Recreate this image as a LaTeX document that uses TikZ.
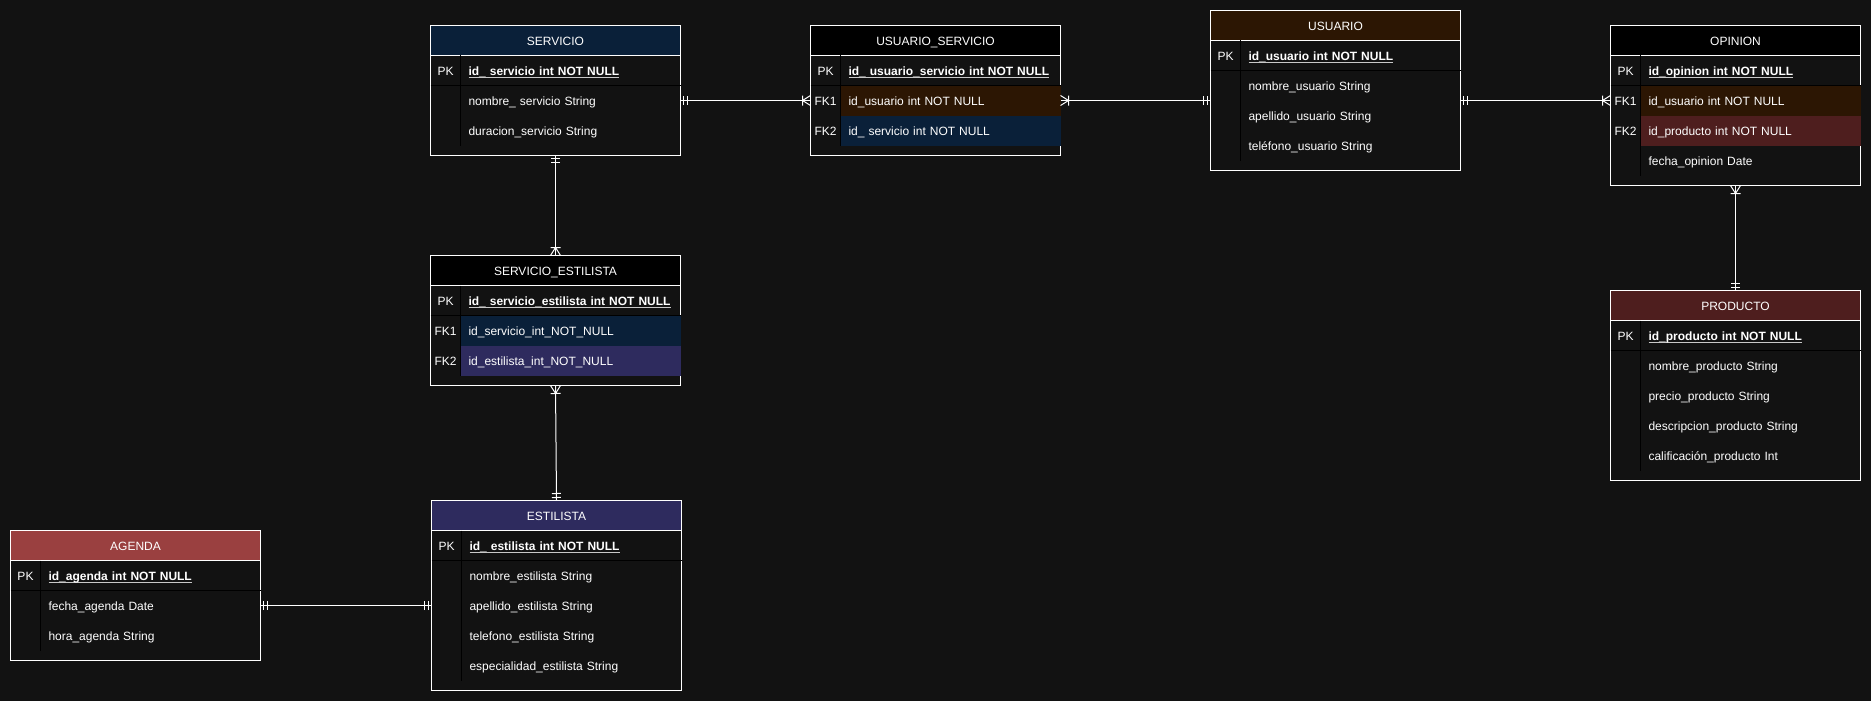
\documentclass[tikz,border=0pt]{standalone}
\usepackage{fontspec}
\setmainfont{Liberation Sans}

\definecolor{canvas}{RGB}{18,18,18}
\definecolor{navy}{RGB}{10,32,57}
\definecolor{umber}{RGB}{44,22,3}
\definecolor{wine}{RGB}{78,30,30}
\definecolor{indigo}{RGB}{46,43,94}
\definecolor{brick}{RGB}{154,64,64}

\newcommand\pkline[1]{\setbox0=\hbox{#1}\rlap{\color[RGB]{200,200,200}\rule[-2.6pt]{\wd0}{1.2pt}}\box0}

\pgfdeclarearrow{
  name = erone,
  setup code = {
    \pgfarrowssettipend{0pt}
    \pgfarrowssetlineend{0pt}
    \pgfarrowssetbackend{-8pt}
    \pgfarrowshullpoint{0pt}{5pt}
    \pgfarrowshullpoint{0pt}{-5pt}
    \pgfarrowshullpoint{-8pt}{5pt}
    \pgfarrowshullpoint{-8pt}{-5pt}
  },
  drawing code = {
    \pgfpathmoveto{\pgfqpoint{-3pt}{-4.5pt}}\pgfpathlineto{\pgfqpoint{-3pt}{4.5pt}}
    \pgfpathmoveto{\pgfqpoint{-7pt}{-4.5pt}}\pgfpathlineto{\pgfqpoint{-7pt}{4.5pt}}
    \pgfusepathqstroke
  },
  parameters = {}
}
\pgfdeclarearrow{
  name = ermany,
  setup code = {
    \pgfarrowssettipend{0pt}
    \pgfarrowssetlineend{0pt}
    \pgfarrowssetbackend{-8pt}
    \pgfarrowshullpoint{0pt}{5pt}
    \pgfarrowshullpoint{0pt}{-5pt}
    \pgfarrowshullpoint{-8pt}{5pt}
    \pgfarrowshullpoint{-8pt}{-5pt}
  },
  drawing code = {
    \pgfpathmoveto{\pgfqpoint{0pt}{5pt}}\pgfpathlineto{\pgfqpoint{-8pt}{0pt}}\pgfpathlineto{\pgfqpoint{0pt}{-5pt}}
    \pgfpathmoveto{\pgfqpoint{-8pt}{-5pt}}\pgfpathlineto{\pgfqpoint{-8pt}{5pt}}
    \pgfusepathqstroke
  },
  parameters = {}
}

\begin{document}
\begin{tikzpicture}[x=1pt, y=-1pt, line width=1pt,
    cell/.style={anchor=north west, outer sep=0pt, text=white,
        font=\fontsize{12}{14}\selectfont, text height=10.6pt, text depth=0pt},
    tbl/.style={draw=white, fill=canvas, minimum width=250pt,
        anchor=north west, outer sep=0pt, inner sep=0pt},
    head/.style={cell, draw=white, minimum width=250pt, minimum height=30pt, inner sep=0pt},
    key/.style={cell, minimum width=30pt, minimum height=30pt, inner sep=0pt},
    attr/.style={cell, minimum height=30pt, text width=204pt,
        inner xsep=8pt, inner ysep=0pt, align=left},
    pk/.style={attr, font=\fontsize{12}{14}\selectfont\bfseries},
    rel/.style={draw=white}
]
    \path[use as bounding box, fill=canvas] (0,0) rectangle (1871,701);

    % SERVICIO
    \node[tbl, minimum height=130pt] (servicio) at (430.5,25.5) {};
    \node[head, fill=navy] (servicio-h) at (servicio.north west) {SERVICIO};
    \node[key] (servicio-k0) at (servicio-h.south west) {PK};
    \node[pk] (servicio-0) at (servicio-k0.north east) {\pkline{id\_ servicio int NOT NULL}};
    \foreach \lab/\txt/\col [count=\i] in {/nombre\_ servicio String/none,/duracion\_servicio String/none} {
        \node[key] (servicio-k\i) at ([yshift=-30*\i]servicio-k0.north west) {\lab};
        \node[attr, fill=\col] (servicio-\i) at (servicio-k\i.north east) {\txt};
    }
    \draw (servicio-k0.south west) -- (servicio-0.south east);
    \draw (servicio-k0.north east) -- ++(0,90);

    % USUARIO_SERVICIO
    \node[tbl, minimum height=130pt] (usserv) at (810.5,25.5) {};
    \node[head, fill=black] (usserv-h) at (usserv.north west) {USUARIO\_SERVICIO};
    \node[key] (usserv-k0) at (usserv-h.south west) {PK};
    \node[pk] (usserv-0) at (usserv-k0.north east) {\pkline{id\_ usuario\_servicio int NOT NULL}};
    \foreach \lab/\txt/\col [count=\i] in {FK1/id\_usuario int NOT NULL/umber,FK2/id\_ servicio int NOT NULL/navy} {
        \node[key] (usserv-k\i) at ([yshift=-30*\i]usserv-k0.north west) {\lab};
        \node[attr, fill=\col] (usserv-\i) at (usserv-k\i.north east) {\txt};
    }
    \draw (usserv-k0.south west) -- (usserv-0.south east);
    \draw (usserv-k0.north east) -- ++(0,90);

    % USUARIO
    \node[tbl, minimum height=160pt] (usuario) at (1210.5,10.5) {};
    \node[head, fill=umber] (usuario-h) at (usuario.north west) {USUARIO};
    \node[key] (usuario-k0) at (usuario-h.south west) {PK};
    \node[pk] (usuario-0) at (usuario-k0.north east) {\pkline{id\_usuario int NOT NULL}};
    \foreach \lab/\txt/\col [count=\i] in {/nombre\_usuario String/none,/apellido\_usuario String/none,/teléfono\_usuario String/none} {
        \node[key] (usuario-k\i) at ([yshift=-30*\i]usuario-k0.north west) {\lab};
        \node[attr, fill=\col] (usuario-\i) at (usuario-k\i.north east) {\txt};
    }
    \draw (usuario-k0.south west) -- (usuario-0.south east);
    \draw (usuario-k0.north east) -- ++(0,120);

    % OPINION
    \node[tbl, minimum height=160pt] (opinion) at (1610.5,25.5) {};
    \node[head, fill=black] (opinion-h) at (opinion.north west) {OPINION};
    \node[key] (opinion-k0) at (opinion-h.south west) {PK};
    \node[pk] (opinion-0) at (opinion-k0.north east) {\pkline{id\_opinion int NOT NULL}};
    \foreach \lab/\txt/\col [count=\i] in {FK1/id\_usuario int NOT NULL/umber,FK2/id\_producto int NOT NULL/wine,/fecha\_opinion Date/none} {
        \node[key] (opinion-k\i) at ([yshift=-30*\i]opinion-k0.north west) {\lab};
        \node[attr, fill=\col] (opinion-\i) at (opinion-k\i.north east) {\txt};
    }
    \draw (opinion-k0.south west) -- (opinion-0.south east);
    \draw (opinion-k0.north east) -- ++(0,120);

    % PRODUCTO
    \node[tbl, minimum height=190pt] (producto) at (1610.5,290.5) {};
    \node[head, fill=wine] (producto-h) at (producto.north west) {PRODUCTO};
    \node[key] (producto-k0) at (producto-h.south west) {PK};
    \node[pk] (producto-0) at (producto-k0.north east) {\pkline{id\_producto int NOT NULL}};
    \foreach \lab/\txt/\col [count=\i] in {/nombre\_producto String/none,/precio\_producto String/none,/descripcion\_producto String/none,/calificación\_producto Int/none} {
        \node[key] (producto-k\i) at ([yshift=-30*\i]producto-k0.north west) {\lab};
        \node[attr, fill=\col] (producto-\i) at (producto-k\i.north east) {\txt};
    }
    \draw (producto-k0.south west) -- (producto-0.south east);
    \draw (producto-k0.north east) -- ++(0,150);

    % SERVICIO_ESTILISTA
    \node[tbl, minimum height=130pt] (servest) at (430.5,255.5) {};
    \node[head, fill=black] (servest-h) at (servest.north west) {SERVICIO\_ESTILISTA};
    \node[key] (servest-k0) at (servest-h.south west) {PK};
    \node[pk] (servest-0) at (servest-k0.north east) {\pkline{id\_ servicio\_estilista int NOT NULL}};
    \foreach \lab/\txt/\col [count=\i] in {FK1/id\_servicio\_int\_NOT\_NULL/navy,FK2/id\_estilista\_int\_NOT\_NULL/indigo} {
        \node[key] (servest-k\i) at ([yshift=-30*\i]servest-k0.north west) {\lab};
        \node[attr, fill=\col] (servest-\i) at (servest-k\i.north east) {\txt};
    }
    \draw (servest-k0.south west) -- (servest-0.south east);
    \draw (servest-k0.north east) -- ++(0,90);

    % ESTILISTA
    \node[tbl, minimum height=190pt] (estilista) at (431.5,500.5) {};
    \node[head, fill=indigo] (estilista-h) at (estilista.north west) {ESTILISTA};
    \node[key] (estilista-k0) at (estilista-h.south west) {PK};
    \node[pk] (estilista-0) at (estilista-k0.north east) {\pkline{id\_ estilista int NOT NULL}};
    \foreach \lab/\txt/\col [count=\i] in {/nombre\_estilista String/none,/apellido\_estilista String/none,/telefono\_estilista String/none,/especialidad\_estilista String/none} {
        \node[key] (estilista-k\i) at ([yshift=-30*\i]estilista-k0.north west) {\lab};
        \node[attr, fill=\col] (estilista-\i) at (estilista-k\i.north east) {\txt};
    }
    \draw (estilista-k0.south west) -- (estilista-0.south east);
    \draw (estilista-k0.north east) -- ++(0,150);

    % AGENDA
    \node[tbl, minimum height=130pt] (agenda) at (10.5,530.5) {};
    \node[head, fill=brick] (agenda-h) at (agenda.north west) {AGENDA};
    \node[key] (agenda-k0) at (agenda-h.south west) {PK};
    \node[pk] (agenda-0) at (agenda-k0.north east) {\pkline{id\_agenda int NOT NULL}};
    \foreach \lab/\txt/\col [count=\i] in {/fecha\_agenda Date/none,/hora\_agenda String/none} {
        \node[key] (agenda-k\i) at ([yshift=-30*\i]agenda-k0.north west) {\lab};
        \node[attr, fill=\col] (agenda-\i) at (agenda-k\i.north east) {\txt};
    }
    \draw (agenda-k0.south west) -- (agenda-0.south east);
    \draw (agenda-k0.north east) -- ++(0,90);

    % relations
    \draw[rel, erone-ermany] (servicio-1.east) -- (usserv-k1.west);
    \draw[rel, ermany-erone] (usserv-1.east) -- (usserv-1.east -| usuario.west);
    \draw[rel, erone-ermany] (opinion-k1.west -| usuario.east) -- (opinion-k1.west);
    \draw[rel, erone-ermany] (servicio.south) -- (servest.north);
    \draw[rel, ermany-erone] (servest.south) -- (estilista.north);
    \draw[rel, ermany-erone] (opinion.south) -- (producto.north);
    \draw[rel, erone-erone] (agenda-1.east) -- (estilista-k2.west);
\end{tikzpicture}
\end{document}
